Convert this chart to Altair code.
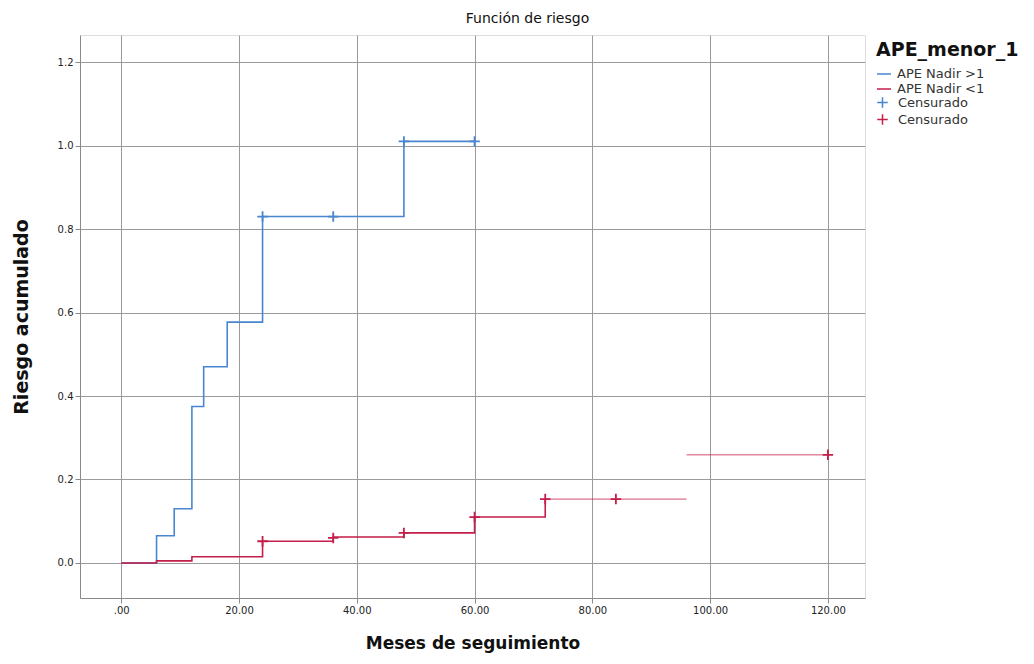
import altair as alt
import pandas as pd

# ---- data ----
blue_label = "APE Nadir >1"
red_label = "APE Nadir <1"

blue_t = [0, 6, 9, 12, 14, 18, 24, 48, 60]
blue_v = [0.0, 0.065, 0.13, 0.375, 0.47, 0.577, 0.83, 1.01, 1.01]

red_t = [0, 6, 12, 24, 36, 48, 60, 72]
red_v = [0.0, 0.005, 0.015, 0.052, 0.062, 0.072, 0.11, 0.153]

red_tail_t0 = [72, 96]
red_tail_t1 = [96, 120]
red_tail_v = [0.153, 0.259]

blue_cens_t = [24, 36, 48, 60]
blue_cens_v = [0.83, 0.83, 1.01, 1.01]
red_cens_t = [24, 36, 48, 60, 72, 84, 120]
red_cens_v = [0.052, 0.06, 0.072, 0.11, 0.153, 0.153, 0.259]

x_ticks = [0, 20, 40, 60, 80, 100, 120]
y_ticks = [0.0, 0.2, 0.4, 0.6, 0.8, 1.0, 1.2]

BLUE = "#4a86d0"
RED = "#c41e4a"
FONT = "DejaVu Sans"

lines = pd.DataFrame(
    [{"t": t, "v": v, "g": blue_label} for t, v in zip(blue_t, blue_v)]
    + [{"t": t, "v": v, "g": red_label} for t, v in zip(red_t, red_v)]
)
tails = pd.DataFrame(
    [{"t0": a, "t1": b, "v": v, "g": red_label} for a, b, v in zip(red_tail_t0, red_tail_t1, red_tail_v)]
)
cens = pd.DataFrame(
    [{"t": t, "v": v, "c": "c1"} for t, v in zip(blue_cens_t, blue_cens_v)]
    + [{"t": t, "v": v, "c": "c2"} for t, v in zip(red_cens_t, red_cens_v)]
)

xscale = alt.Scale(domain=[-7, 126.3], nice=False, zero=False)
yscale = alt.Scale(domain=[-0.084, 1.265], nice=False, zero=False)

xaxis = alt.Axis(
    values=x_ticks,
    labelExpr="datum.value == 0 ? '.00' : format(datum.value, '.2f')",
    title="Meses de seguimiento",
    titleFont=FONT, titleFontSize=17, titleFontWeight="bold", titleColor="#111",
    titlePadding=20,
    labelFont=FONT, labelFontSize=10, labelColor="#222",
    grid=True, gridColor="#9a9a9a", gridWidth=1,
    domainColor="#8a8a8a", tickColor="#8a8a8a", tickSize=5,
)
yaxis = alt.Axis(
    values=y_ticks, format=".1f",
    title="Riesgo acumulado",
    titleFont=FONT, titleFontSize=19, titleFontWeight="bold", titleColor="#111",
    titlePadding=26,
    labelFont=FONT, labelFontSize=10, labelColor="#222",
    grid=True, gridColor="#9a9a9a", gridWidth=1,
    domainColor="#8a8a8a", tickColor="#8a8a8a", tickSize=5,
)

color_line = alt.Color(
    "g:N",
    scale=alt.Scale(domain=[blue_label, red_label], range=[BLUE, RED]),
    legend=alt.Legend(
        title="APE_menor_1", orient="none", legendX=796, legendY=6,
        symbolType="stroke", symbolSize=196, symbolStrokeWidth=1.5,
        titleFont=FONT, titleFontSize=19, titleFontWeight="bold", titleColor="#111",
        labelFont=FONT, labelFontSize=13, labelColor="#333", labelOffset=5,
        rowPadding=0, titlePadding=6,
    ),
)

line = alt.Chart(lines).mark_line(interpolate="step-after", strokeWidth=1.6).encode(
    x=alt.X("t:Q", scale=xscale, axis=xaxis),
    y=alt.Y("v:Q", scale=yscale, axis=yaxis),
    color=color_line,
    detail="g:N",
)

tail = alt.Chart(tails).mark_rule(strokeWidth=1, opacity=0.8).encode(
    x="t0:Q", x2="t1:Q", y="v:Q",
    color=alt.Color("g:N", scale=alt.Scale(domain=[blue_label, red_label], range=[BLUE, RED]), legend=None),
)

PLUS = "M-1,0L1,0M0,-1L0,1"
pts = alt.Chart(cens).mark_point(shape=PLUS, size=110, strokeWidth=1.8, filled=False, opacity=1).encode(
    x="t:Q", y="v:Q",
    color=alt.Color(
        "c:N",
        scale=alt.Scale(domain=["c1", "c2"], range=[BLUE, RED]),
        legend=alt.Legend(
            title=None, orient="none", legendX=796, legendY=61,
            symbolType=PLUS, symbolSize=110, symbolStrokeWidth=1.5,
            labelExpr="'Censurado'",
            labelFont=FONT, labelFontSize=13, labelColor="#333", labelOffset=9,
            rowPadding=0,
        ),
    ),
)

chart = (
    alt.layer(line, tail, pts)
    .resolve_scale(color="independent")
    .properties(
        width=785, height=563,
        autosize=alt.AutoSizeParams(type="none"),
        padding={"left": 72, "top": 27, "right": 161, "bottom": 58},
        title=alt.Title("Función de riesgo", font=FONT, fontSize=14, fontWeight="normal",
                        color="#111", anchor="middle", dx=55, offset=9),
    )
    .configure_view(stroke=None)
    .configure(background="white")
)

chart.save("out.html", embed_options={"renderer": "svg", "actions": False})
